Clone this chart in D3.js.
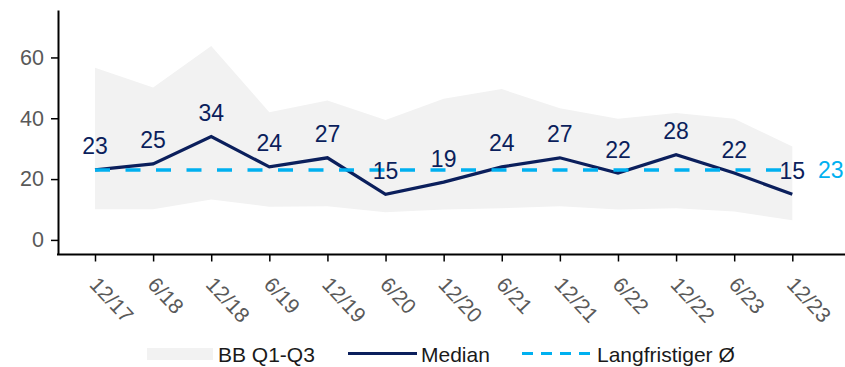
<!DOCTYPE html>
<html>
<head>
<meta charset="utf-8">
<script src="https://cdn.jsdelivr.net/npm/d3@7"></script>
<style>
  html, body { margin: 0; padding: 0; background: #ffffff; }
  svg { display: block; font-family: "Liberation Sans", Arial, sans-serif; }
</style>
</head>
<body>
<div id="chart"></div>
<script>
// Half-year periods
const periods = ["12/17", "6/18", "12/18", "6/19", "12/19", "6/20", "12/20", "6/21", "12/21", "6/22", "12/22", "6/23", "12/23"];
// Median series
const median = [23, 25, 34, 24, 27, 15, 19, 24, 27, 22, 28, 22, 15];
// Interquartile band (Q1 / Q3)
const q1 = [10.1, 10.1, 13.3, 10.9, 11.1, 9.1, 10.0, 10.4, 11.1, 10.0, 10.4, 9.3, 6.5];
const q3 = [56.6, 50.1, 63.8, 42.0, 45.8, 39.4, 46.4, 49.6, 43.3, 39.8, 41.7, 39.8, 30.7];
// Long-run average
const longRunAvg = 23;
// Y tick values
const yTicks = [0, 20, 40, 60];
// Legend labels
const legendLabels = ["BB Q1-Q3", "Median", "Langfristiger Ø"];

const W = 845, H = 367;
const plot = { left: 58, right: 845, top: 10, bottom: 254.5 };
const colors = { band: "#f2f2f2", median: "#0b1f5c", avg: "#00b0f0", tick: "#595959", axis: "#000000", legend: "#1a1a1a" };

const svg = d3.select("#chart").append("svg").attr("width", W).attr("height", H);

const x = d3.scalePoint().domain(periods).range([95, 792.3]);
const y = d3.scaleLinear().domain([-4.8, 75.6]).range([plot.bottom, plot.top]);

const rows = periods.map((p, i) => ({ p, m: median[i], lo: q1[i], hi: q3[i] }));

// Q1-Q3 band
svg.append("path")
  .datum(rows)
  .attr("fill", colors.band)
  .attr("d", d3.area().x(d => x(d.p)).y0(d => y(d.lo)).y1(d => y(d.hi)));

// Median line
svg.append("path")
  .datum(rows)
  .attr("fill", "none")
  .attr("stroke", colors.median)
  .attr("stroke-width", 3.2)
  .attr("stroke-linejoin", "miter")
  .attr("d", d3.line().x(d => x(d.p)).y(d => y(d.m)));

// Long-run average (dashed)
svg.append("line")
  .attr("x1", x(periods[0])).attr("x2", x(periods[periods.length - 1]))
  .attr("y1", y(longRunAvg)).attr("y2", y(longRunAvg))
  .attr("stroke", colors.avg)
  .attr("stroke-width", 3.5)
  .attr("stroke-dasharray", "15,15.5");

svg.append("text")
  .attr("x", 818).attr("y", y(longRunAvg) + 8.5)
  .attr("fill", colors.avg)
  .attr("font-size", 23)
  .text(longRunAvg);

// Value labels above median points
svg.append("g").selectAll("text")
  .data(rows)
  .join("text")
  .attr("x", d => x(d.p))
  .attr("y", d => y(d.m) - 15.5)
  .attr("text-anchor", "middle")
  .attr("fill", colors.median)
  .attr("font-size", 23)
  .text(d => d.m);

// Y axis
const yAxis = svg.append("g")
  .attr("transform", `translate(${plot.left},0)`)
  .call(d3.axisLeft(y).tickValues(yTicks).tickSize(7).tickSizeOuter(0).tickPadding(7));
yAxis.select(".domain").attr("stroke", colors.axis).attr("stroke-width", 2);
yAxis.selectAll(".tick line").attr("stroke", colors.axis).attr("stroke-width", 1.5);
yAxis.selectAll(".tick text").attr("fill", colors.tick).attr("font-size", 21.5).attr("font-family", null);

// X axis
const xAxis = svg.append("g")
  .attr("transform", `translate(0,${plot.bottom})`)
  .call(d3.axisBottom(x).tickSize(7).tickSizeOuter(0));
xAxis.select(".domain").remove();
xAxis.append("line")
  .attr("x1", plot.left - 1).attr("x2", plot.right)
  .attr("stroke", colors.axis).attr("stroke-width", 2);
xAxis.selectAll(".tick line").attr("stroke", colors.axis).attr("stroke-width", 1.5);
xAxis.selectAll(".tick text")
  .attr("fill", colors.tick)
  .attr("font-size", 21)
  .attr("font-family", null)
  .attr("text-anchor", "start")
  .attr("dy", null)
  .attr("y", 0)
  .attr("transform", "translate(-7,31) rotate(47)");

// Legend
const lg = svg.append("g").attr("font-size", 21).attr("fill", colors.legend);
lg.append("rect").attr("x", 147).attr("y", 348).attr("width", 66).attr("height", 12).attr("fill", colors.band);
lg.append("text").attr("x", 218).attr("y", 361.5).text(legendLabels[0]);
lg.append("line").attr("x1", 348).attr("x2", 417).attr("y1", 353.5).attr("y2", 353.5)
  .attr("stroke", colors.median).attr("stroke-width", 3);
lg.append("text").attr("x", 421).attr("y", 361.5).text(legendLabels[1]);
lg.append("line").attr("x1", 522).attr("x2", 590).attr("y1", 353.5).attr("y2", 353.5)
  .attr("stroke", colors.avg).attr("stroke-width", 3).attr("stroke-dasharray", "11,8");
lg.append("text").attr("x", 597).attr("y", 361.5).text(legendLabels[2]);
</script>
</body>
</html>
